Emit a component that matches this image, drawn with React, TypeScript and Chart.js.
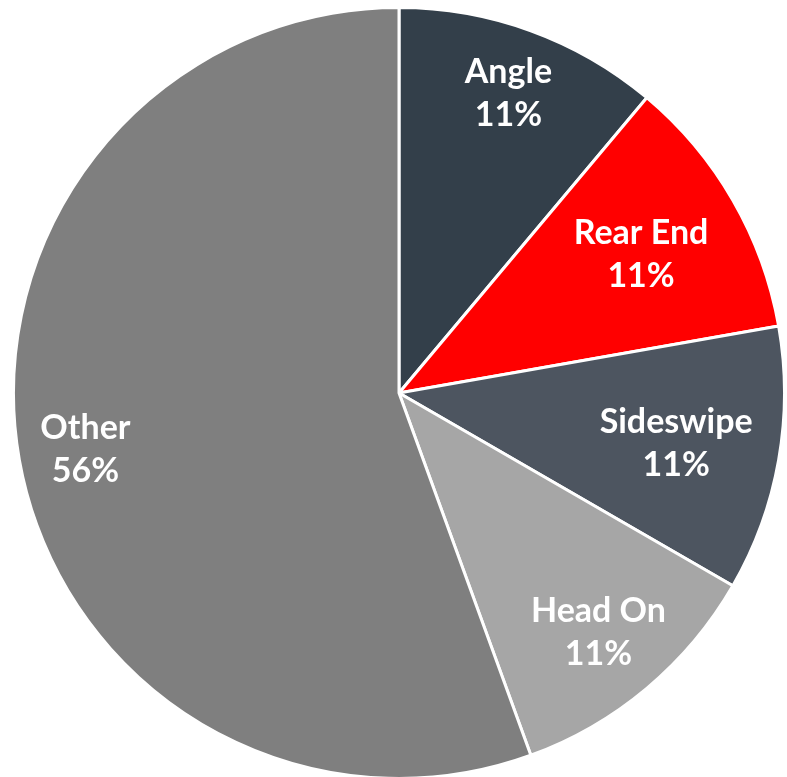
import React, { useEffect, useRef } from "react";
import { Chart, registerables } from "chart.js";

Chart.register(...registerables);

const categories = ["Angle", "Rear End", "Sideswipe", "Head On", "Other"];
const values = [1, 1, 1, 1, 5];
const colors = ["#333F4A", "#FF0000", "#4D5560", "#A6A6A6", "#7F7F7F"];
const labelRadiusFractions = [0.83, 0.725, 0.73, 0.805, 0.826];

const labelPlugin = {
  id: "sliceLabels",
  afterDatasetsDraw(chart: any) {
    const ctx = chart.ctx;
    const meta = chart.getDatasetMeta(0);
    const data = chart.data.datasets[0].data as number[];
    const total = data.reduce((a, b) => a + b, 0);
    const fr: number[] = chart.options.plugins.sliceLabels.radii;
    ctx.save();
    ctx.fillStyle = "#FFFFFF";
    ctx.font = "bold 34px Lato";
    ctx.textAlign = "center";
    ctx.textBaseline = "alphabetic";
    meta.data.forEach((arc: any, i: number) => {
      const { x, y, startAngle, endAngle, outerRadius } = arc.getProps(
        ["x", "y", "startAngle", "endAngle", "outerRadius"],
        true
      );
      const mid = (startAngle + endAngle) / 2;
      const r = outerRadius * fr[i];
      const cx = x + Math.cos(mid) * r;
      const cy = y + Math.sin(mid) * r;
      const pct = Math.round((data[i] / total) * 100) + "%";
      ctx.fillText(chart.data.labels[i], cx, cy - 9);
      ctx.fillText(pct, cx, cy + 34);
    });
    ctx.restore();
  },
};

export default function App() {
  const ref = useRef<HTMLCanvasElement>(null);
  useEffect(() => {
    if (!ref.current) return;
    const chart = new Chart(ref.current, {
      type: "pie",
      data: {
        labels: categories,
        datasets: [
          {
            data: values,
            backgroundColor: colors,
            borderColor: "#FFFFFF",
            borderWidth: 3,
            hoverOffset: 0,
            offset: 0,
          },
        ],
      },
      options: {
        responsive: false,
        animation: false,
        layout: { padding: 0 },
        plugins: {
          legend: { display: false },
          tooltip: { enabled: false },
          sliceLabels: { radii: labelRadiusFractions },
        } as any,
      },
      plugins: [labelPlugin],
    });
    return () => chart.destroy();
  }, []);
  return (
    <div style={{ position: "fixed", left: 12, top: 6, width: 774, height: 774 }}>
      <canvas ref={ref} width={774} height={774} />
    </div>
  );
}
